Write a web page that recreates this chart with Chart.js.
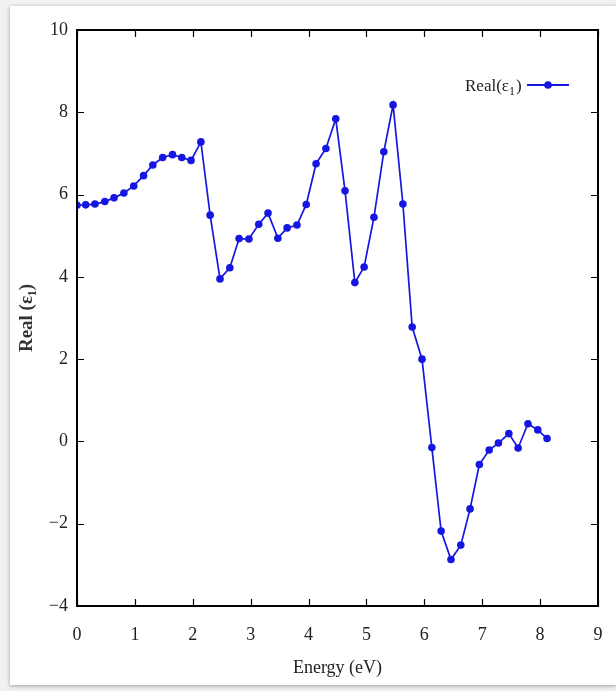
<!DOCTYPE html>
<html>
<head>
<meta charset="utf-8">
<script src="https://cdn.jsdelivr.net/npm/chart.js@4/dist/chart.umd.min.js"></script>
<style>
  html, body { margin: 0; padding: 0; background: #f1f1f1; }
  #wrap { width: 616px; height: 691px; }
</style>
</head>
<body>
<div id="wrap"><canvas id="c" width="616" height="691"></canvas></div>
<script>
// Photon energy (eV)
const energy = [0, 0.15, 0.31, 0.48, 0.64, 0.81, 0.98, 1.15, 1.31, 1.48,
  1.65, 1.81, 1.97, 2.14, 2.30, 2.47, 2.64, 2.80, 2.97, 3.14,
  3.30, 3.47, 3.63, 3.80, 3.96, 4.13, 4.30, 4.47, 4.63, 4.80,
  4.96, 5.13, 5.30, 5.46, 5.63, 5.79, 5.96, 6.13, 6.29, 6.46,
  6.63, 6.79, 6.95, 7.12, 7.28, 7.46, 7.62, 7.79, 7.96, 8.12];
// Real part of the dielectric function
const realEps1 = [5.74, 5.75, 5.77, 5.83, 5.92, 6.04, 6.21, 6.46, 6.72, 6.90,
  6.97, 6.90, 6.83, 7.28, 5.50, 3.95, 4.22, 4.93, 4.92, 5.28,
  5.55, 4.94, 5.19, 5.26, 5.76, 6.75, 7.12, 7.84, 6.09, 3.86,
  4.24, 5.45, 7.04, 8.18, 5.77, 2.78, 2.00, -0.15, -2.18, -2.87,
  -2.52, -1.64, -0.56, -0.21, -0.04, 0.19, -0.16, 0.43, 0.28, 0.07];
const xTicks = [0, 1, 2, 3, 4, 5, 6, 7, 8, 9];
const yTicks = [-4, -2, 0, 2, 4, 6, 8, 10];
const seriesLabel = ['Real(ε', '1', ')'];
const xTitle = 'Energy (eV)';
const yTitle = 'Real (ε₁)';

const BLUE = 'rgb(22,22,225)';
const SERIF = '"Liberation Serif", "DejaVu Serif", serif';

// Page panel behind the chart
const panelPlugin = {
  id: 'panel',
  beforeDraw(chart) {
    const ctx = chart.ctx;
    ctx.save();
    ctx.fillStyle = '#f1f1f1';
    ctx.fillRect(0, 0, chart.width, chart.height);
    ctx.shadowColor = 'rgba(0,0,0,0.35)';
    ctx.shadowBlur = 4;
    ctx.shadowOffsetY = 1;
    ctx.fillStyle = '#ffffff';
    ctx.fillRect(10, 6, chart.width - 10, 679);
    ctx.restore();
  }
};

// Box frame with inward ticks on all four sides, plus the legend entry
const framePlugin = {
  id: 'frame',
  afterDraw(chart) {
    const ctx = chart.ctx;
    const a = chart.chartArea;
    const xs = chart.scales.x, ys = chart.scales.y;
    ctx.save();
    ctx.strokeStyle = '#000';
    ctx.lineWidth = 2;
    ctx.strokeRect(a.left, a.top, a.right - a.left, a.bottom - a.top);
    ctx.lineWidth = 1.2;
    const tl = 7;
    ctx.beginPath();
    xTicks.forEach(v => {
      const px = Math.round(xs.getPixelForValue(v)) + 0.5;
      ctx.moveTo(px, a.bottom); ctx.lineTo(px, a.bottom - tl);
      ctx.moveTo(px, a.top); ctx.lineTo(px, a.top + tl);
    });
    yTicks.forEach(v => {
      const py = Math.round(ys.getPixelForValue(v)) + 0.5;
      ctx.moveTo(a.left, py); ctx.lineTo(a.left + tl, py);
      ctx.moveTo(a.right, py); ctx.lineTo(a.right - tl, py);
    });
    ctx.stroke();

    // legend
    const ly = 85;
    ctx.fillStyle = '#222';
    ctx.textBaseline = 'alphabetic';
    ctx.font = '17px ' + SERIF;
    let tx = 465;
    ctx.fillText(seriesLabel[0], tx, ly + 6);
    tx += ctx.measureText(seriesLabel[0]).width;
    ctx.font = '12px ' + SERIF;
    ctx.fillText(seriesLabel[1], tx, ly + 10);
    tx += ctx.measureText(seriesLabel[1]).width + 1;
    ctx.font = '17px ' + SERIF;
    ctx.fillText(seriesLabel[2], tx, ly + 6);
    ctx.strokeStyle = BLUE;
    ctx.lineWidth = 2;
    ctx.beginPath();
    ctx.moveTo(527, ly); ctx.lineTo(569, ly);
    ctx.stroke();
    ctx.fillStyle = BLUE;
    ctx.beginPath();
    ctx.arc(548, ly, 3.8, 0, Math.PI * 2);
    ctx.fill();
    ctx.restore();
  }
};

new Chart(document.getElementById('c'), {
  type: 'line',
  data: {
    datasets: [{
      label: seriesLabel.join(''),
      data: energy.map((e, i) => ({ x: e, y: realEps1[i] })),
      borderColor: BLUE,
      backgroundColor: BLUE,
      borderWidth: 1.7,
      pointRadius: 3.8,
      pointHoverRadius: 3.8,
      pointBorderWidth: 0,
      tension: 0
    }]
  },
  options: {
    responsive: false,
    animation: false,
    events: [],
    layout: { padding: { top: 30, right: 18, bottom: 0, left: 0 } },
    plugins: { legend: { display: false }, tooltip: { enabled: false } },
    scales: {
      x: {
        type: 'linear',
        min: 0, max: 9,
        afterBuildTicks: s => { s.ticks = xTicks.map(v => ({ value: v })); },
        afterFit: s => { s.height = 85; },
        grid: { display: false, drawTicks: true, tickLength: 18 },
        border: { display: false },
        ticks: { color: '#222', font: { family: SERIF, size: 18 }, padding: 0, maxRotation: 0 },
        title: { display: true, text: xTitle, color: '#222', font: { family: SERIF, size: 18 }, padding: { top: 0, bottom: 12 } }
      },
      y: {
        type: 'linear',
        min: -4, max: 10,
        afterBuildTicks: s => { s.ticks = yTicks.map(v => ({ value: v })); },
        afterFit: s => { s.width = 77; },
        grid: { display: false, drawTicks: true, tickLength: 9 },
        border: { display: false },
        ticks: { color: '#222', font: { family: SERIF, size: 18 }, padding: 0,
          callback: v => (v < 0 ? '\u2212' + Math.abs(v) : String(v)) },
        title: { display: true, text: yTitle, color: '#333', font: { family: SERIF, size: 19, weight: 'bold' }, padding: { top: 16, bottom: 0 } }
      }
    }
  },
  plugins: [panelPlugin, framePlugin]
});
</script>
</body>
</html>
